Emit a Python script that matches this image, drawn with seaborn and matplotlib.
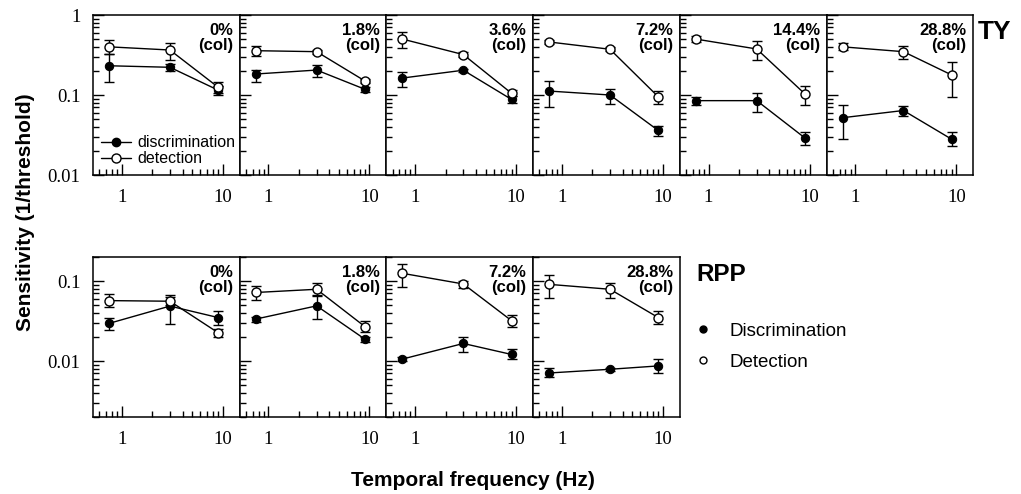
import numpy as np
import matplotlib
matplotlib.use("Agg")
import matplotlib.pyplot as plt
import seaborn as sns
from matplotlib.lines import Line2D
from matplotlib.ticker import LogLocator, NullFormatter, FixedLocator, FixedFormatter

sns.set_style("ticks")
plt.rcParams['font.family'] = ['Liberation Sans', 'DejaVu Sans']
plt.rcParams['text.color'] = 'black'
plt.rcParams['xtick.color'] = 'black'
plt.rcParams['ytick.color'] = 'black'
plt.rcParams['axes.labelcolor'] = 'black'

freq = [0.75, 3, 9]

ty_conds = ["0%", "1.8%", "3.6%", "7.2%", "14.4%", "28.8%"]
ty_disc = [[0.232, 0.222, 0.115], [0.183, 0.205, 0.118], [0.163, 0.204, 0.088],
           [0.112, 0.100, 0.036], [0.085, 0.085, 0.029], [0.052, 0.064, 0.028]]
ty_disc_lo = [[0.147, 0.200, 0.100], [0.147, 0.170, 0.110], [0.127, 0.195, 0.080],
              [0.071, 0.077, 0.031], [0.075, 0.062, 0.0237], [0.028, 0.055, 0.023]]
ty_disc_hi = [[0.330, 0.245, 0.130], [0.205, 0.240, 0.127], [0.195, 0.213, 0.097],
              [0.150, 0.120, 0.041], [0.095, 0.107, 0.034], [0.075, 0.073, 0.034]]
ty_det = [[0.400, 0.365, 0.125], [0.358, 0.348, 0.150], [0.500, 0.320, 0.105],
          [0.460, 0.373, 0.095], [0.500, 0.376, 0.103], [0.400, 0.348, 0.178]]
ty_det_lo = [[0.330, 0.270, 0.105], [0.310, 0.330, 0.140], [0.390, 0.300, 0.097],
             [0.430, 0.350, 0.077], [0.460, 0.270, 0.076], [0.360, 0.280, 0.094]]
ty_det_hi = [[0.490, 0.450, 0.147], [0.410, 0.365, 0.160], [0.620, 0.340, 0.115],
             [0.490, 0.400, 0.113], [0.540, 0.470, 0.130], [0.450, 0.410, 0.256]]

rpp_conds = ["0%", "1.8%", "7.2%", "28.8%"]
rpp_disc = [[0.0296, 0.0487, 0.035], [0.0335, 0.049, 0.0188],
            [0.0106, 0.0166, 0.0121], [0.0071, 0.0079, 0.0087]]
rpp_disc_lo = [[0.0244, 0.029, 0.028], [0.031, 0.0335, 0.0175],
               [0.0100, 0.013, 0.0105], [0.0063, 0.0075, 0.0070]]
rpp_disc_hi = [[0.035, 0.067, 0.042], [0.036, 0.067, 0.020],
               [0.0112, 0.020, 0.014], [0.0081, 0.0083, 0.0106]]
rpp_det = [[0.057, 0.056, 0.0226], [0.072, 0.079, 0.027],
           [0.125, 0.092, 0.032], [0.091, 0.079, 0.035]]
rpp_det_lo = [[0.048, 0.050, 0.020], [0.058, 0.066, 0.023],
              [0.085, 0.083, 0.0264], [0.061, 0.061, 0.029]]
rpp_det_hi = [[0.069, 0.064, 0.025], [0.087, 0.094, 0.032],
              [0.163, 0.100, 0.0376], [0.120, 0.096, 0.042]]

fig = plt.figure(figsize=(10.21, 4.94), dpi=100)

L = 93 / 1021
W = 146.7 / 1021
H = 160 / 494
serif = 'Liberation Serif'


def panel(ax, cond, disc, dlo, dhi, det, tlo, thi, ylim, yticks, ylabels, first):
    for v, lo, hi in [(disc, dlo, dhi), (det, tlo, thi)]:
        v = np.array(v)
        err = [v - np.array(lo), np.array(hi) - v]
        ax.errorbar(freq, v, yerr=err, fmt='none', ecolor='k', elinewidth=1,
                    capsize=3.5, capthick=1, zorder=1)
    sns.lineplot(x=freq, y=disc, ax=ax, color='k', lw=1, marker='o', markersize=6,
                 markerfacecolor='k', markeredgecolor='k', zorder=2)
    sns.lineplot(x=freq, y=det, ax=ax, color='k', lw=1, marker='o', markersize=6.5,
                 markerfacecolor='white', markeredgecolor='k', markeredgewidth=1, zorder=3)
    ax.set_xscale('log')
    ax.set_yscale('log')
    ax.set_xlim(0.52, 14.7)
    ax.set_ylim(*ylim)
    ax.xaxis.set_major_locator(FixedLocator([1, 10]))
    ax.xaxis.set_major_formatter(FixedFormatter(['1', '10']))
    ax.xaxis.set_minor_locator(LogLocator(base=10, subs=np.arange(2, 10)))
    ax.xaxis.set_minor_formatter(NullFormatter())
    ax.yaxis.set_major_locator(FixedLocator(yticks))
    ax.yaxis.set_minor_locator(LogLocator(base=10, subs=np.arange(2, 10)))
    ax.yaxis.set_minor_formatter(NullFormatter())
    if first:
        ax.yaxis.set_major_formatter(FixedFormatter(ylabels))
    else:
        ax.yaxis.set_major_formatter(NullFormatter())
    ax.tick_params(which='both', direction='in', top=False, right=False, color='k', width=1)
    ax.tick_params(which='major', length=8, labelsize=13.5, pad=10, labelcolor='k')
    ax.tick_params(which='minor', length=4)
    for lab in ax.get_xticklabels() + ax.get_yticklabels():
        lab.set_fontfamily(serif)
    ax.tick_params(axis='y', pad=9)
    for s in ax.spines.values():
        s.set_color('k')
        s.set_linewidth(1.1)
    ax.set_xlabel('')
    ax.set_ylabel('')
    ax.text(0.955, 0.95, cond + "\n(col)", transform=ax.transAxes, ha='right', va='top',
            fontsize=12, fontweight='bold', linespacing=1.0, color='k')


for i, c in enumerate(ty_conds):
    ax = fig.add_axes([L + i * W, 1 - 175 / 494, W, H])
    panel(ax, c, ty_disc[i], ty_disc_lo[i], ty_disc_hi[i], ty_det[i], ty_det_lo[i], ty_det_hi[i],
          (0.01, 1), [0.01, 0.1, 1], ['0.01', '0.1', '1'], i == 0)
    if i == 0:
        h = [Line2D([], [], color='k', lw=1, marker='o', markersize=6, markerfacecolor='k'),
             Line2D([], [], color='k', lw=1, marker='o', markersize=6.5, markerfacecolor='white')]
        ax.legend(h, ['discrimination', 'detection'], loc='lower left', bbox_to_anchor=(0.055, 0.055),
                  frameon=False, fontsize=11.5, handlelength=1.9, handletextpad=0.35,
                  labelspacing=0.05, borderpad=0, borderaxespad=0)

for i, c in enumerate(rpp_conds):
    ax = fig.add_axes([L + i * W, 1 - 417 / 494, W, H])
    panel(ax, c, rpp_disc[i], rpp_disc_lo[i], rpp_disc_hi[i], rpp_det[i], rpp_det_lo[i], rpp_det_hi[i],
          (0.002, 0.2), [0.01, 0.1], ['0.01', '0.1'], i == 0)

fig.text(0.958, 0.935, "TY", fontsize=19, fontweight='bold', va='center', ha='left')
fig.text(0.682, 0.445, "RPP", fontsize=17.5, fontweight='bold', va='center', ha='left')
h2 = [Line2D([], [], ls='none', marker='o', markersize=5, color='k'),
      Line2D([], [], ls='none', marker='o', markersize=5, markerfacecolor='white', markeredgecolor='k')]
fig.legend(h2, ['Discrimination', 'Detection'], loc='upper left', bbox_to_anchor=(0.679, 0.347),
           frameon=False, fontsize=13.5, handlelength=1, handletextpad=0.95, labelspacing=0.75,
           borderpad=0, borderaxespad=0)

fig.text(0.025, 0.571, "Sensitivity (1/threshold)", rotation=90, fontsize=15, fontweight='bold',
         va='center', ha='center')
fig.text(0.463, 0.028, "Temporal frequency (Hz)", fontsize=15, fontweight='bold',
         va='center', ha='center')

fig.savefig("out.png", dpi=100)
